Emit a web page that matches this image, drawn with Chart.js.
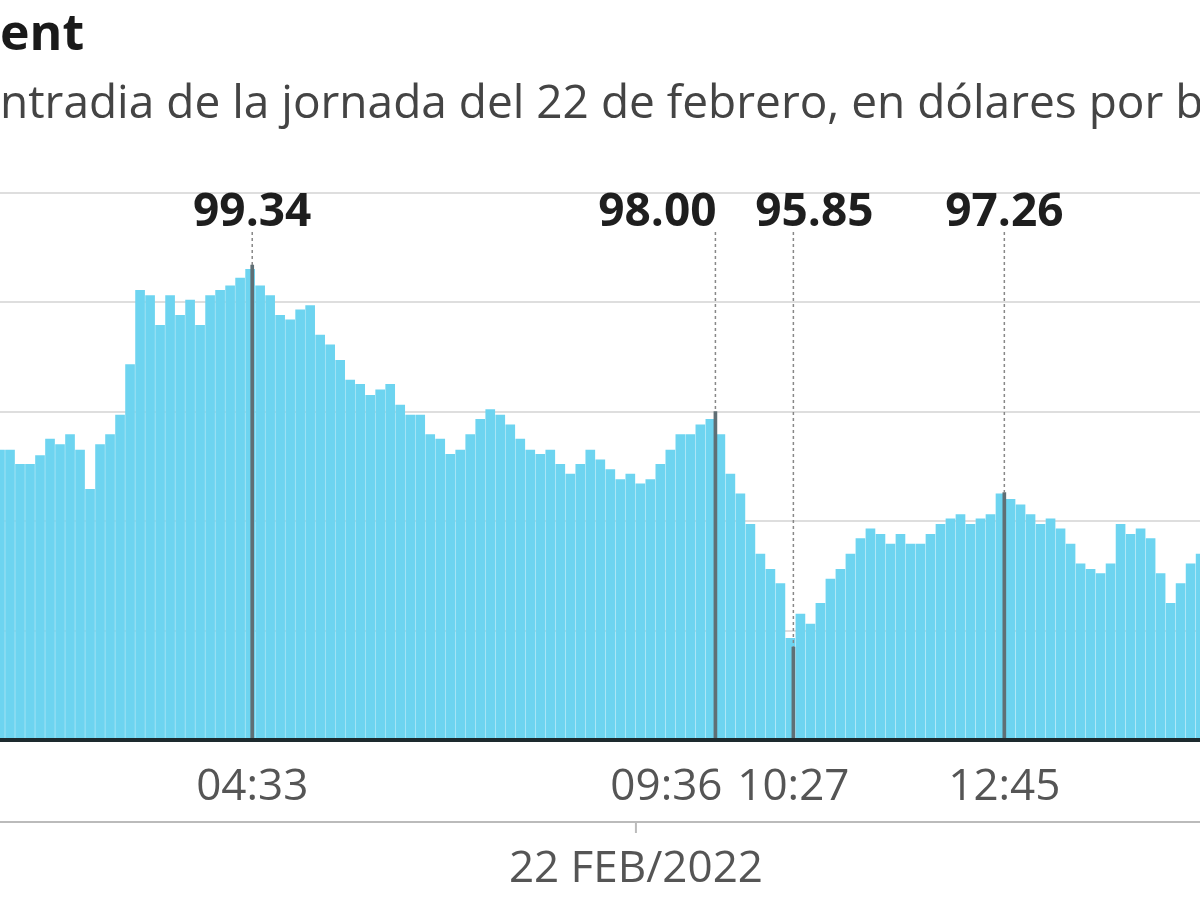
<!DOCTYPE html>
<html>
<head>
<meta charset="utf-8">
<script src="https://cdn.jsdelivr.net/npm/chart.js@4/dist/chart.umd.min.js"></script>
<style>
  html, body { margin: 0; padding: 0; background: #fff; }
  #wrap { width: 1200px; height: 900px; position: relative; }
</style>
</head>
<body>
<div id="wrap"><canvas id="brentChart" width="1200" height="900"></canvas></div>
<script>
// Brent price, intraday 22 Feb 2022 (minutes from midnight on the x axis)
const startMin = 108;      // 01:48
const stepMin = 6.545;     // spacing of the readings
const prices = [
  97.65, 97.65, 97.52, 97.52, 97.60, 97.75, 97.70, 97.79, 97.65, 97.29,
  97.70, 97.79, 97.97, 98.43, 99.11, 99.06, 98.79, 99.06, 98.88, 99.02,
  98.79, 99.06, 99.11, 99.15, 99.22, 99.30, 99.15, 99.06, 98.88, 98.84,
  98.93, 98.97, 98.70, 98.61, 98.47, 98.29, 98.25, 98.15, 98.20, 98.25,
  98.06, 97.97, 97.97, 97.79, 97.75, 97.61, 97.65, 97.79, 97.93, 98.02,
  97.97, 97.88, 97.75, 97.65, 97.61, 97.65, 97.52, 97.43, 97.52, 97.65,
  97.56, 97.47, 97.38, 97.43, 97.34, 97.38, 97.52, 97.65, 97.79, 97.79,
  97.88, 97.93, 97.79, 97.43, 97.25, 96.97, 96.70, 96.56, 96.43, 95.93,
  96.15, 96.06, 96.25, 96.47, 96.56, 96.70, 96.84, 96.93, 96.88, 96.79,
  96.88, 96.79, 96.79, 96.88, 96.97, 97.02, 97.06, 96.97, 97.02, 97.06,
  97.25, 97.20, 97.15, 97.06, 96.97, 97.02, 96.93, 96.79, 96.61, 96.56,
  96.52, 96.61, 96.97, 96.88, 96.93, 96.84, 96.52, 96.25, 96.43, 96.61,
  96.70
];

// highlighted moments
const markTimes = ['04:33', '09:36', '10:27', '12:45'];
const markValues = [99.34, 98.00, 95.85, 97.26];
// label nudges so neighbouring labels do not collide (as in the source)
const valueShift = [0, -58, 21, 0];
const timeShift = [0, -49, 0, 0];

const dateLabel = '22 FEB/2022';
const dateTickTime = '08:44';
const titleText = 'Brent';
const subtitleText = 'Cotización intradia de la jornada del 22 de febrero, en dólares por barril';

function toMin(hhmm) {
    const p = hhmm.split(':');
    return parseInt(p[0]) * 60 + parseInt(p[1]);
}

const priceData = prices.map((v, i) => ({ x: startMin + i * stepMin, y: v }));
const markData = markTimes.map((t, i) => ({ x: toMin(t), y: markValues[i] }));

const decorPlugin = {
    id: 'decor',
    afterDraw(chart) {
        const ctx = chart.ctx;
        const xs = chart.scales.x, ys = chart.scales.y;
        const area = chart.chartArea;
        ctx.save();

        // title, cropped on the left like the source
        ctx.fillStyle = '#1a1a1a';
        ctx.font = 'bold 50px "Open Sans", sans-serif';
        ctx.textBaseline = 'alphabetic';
        ctx.fillText(titleText, -ctx.measureText('Br').width, 50);
        ctx.fillStyle = '#444';
        ctx.font = '46px "Open Sans", sans-serif';
        ctx.fillText(subtitleText, -ctx.measureText('Cotización i').width, 118);

        // base line
        ctx.strokeStyle = '#1d2a2e';
        ctx.lineWidth = 4;
        ctx.beginPath();
        ctx.moveTo(0, area.bottom);
        ctx.lineTo(1200, area.bottom);
        ctx.stroke();

        // markers: dotted leader + value label + time label
        markData.forEach((p, i) => {
            const px = xs.getPixelForValue(p.x);
            const py = ys.getPixelForValue(p.y);
            ctx.strokeStyle = '#888';
            ctx.lineWidth = 1.5;
            ctx.setLineDash([3, 3]);
            ctx.beginPath();
            ctx.moveTo(px, 232);
            ctx.lineTo(px, py);
            ctx.stroke();
            ctx.setLineDash([]);

            ctx.fillStyle = '#1e1e1e';
            ctx.font = 'bold 46px "Open Sans", sans-serif';
            ctx.textAlign = 'center';
            ctx.fillText(markValues[i].toFixed(2), px + valueShift[i], 226);

            ctx.fillStyle = '#555';
            ctx.font = '44px "Open Sans", sans-serif';
            ctx.fillText(markTimes[i], px + timeShift[i], 800);
        });

        // date axis
        ctx.strokeStyle = '#bbb';
        ctx.lineWidth = 2;
        ctx.beginPath();
        ctx.moveTo(0, 822);
        ctx.lineTo(1200, 822);
        const dx = xs.getPixelForValue(toMin(dateTickTime));
        ctx.moveTo(dx, 822);
        ctx.lineTo(dx, 833);
        ctx.stroke();
        ctx.fillStyle = '#555';
        ctx.font = '44px "Open Sans", sans-serif';
        ctx.textAlign = 'center';
        ctx.fillText(dateLabel, dx, 882);

        ctx.restore();
    }
};

new Chart(document.getElementById('brentChart').getContext('2d'), {
    type: 'bar',
    data: {
        datasets: [
            {
                label: 'Marcas',
                data: markData,
                backgroundColor: '#5f6f75',
                barThickness: 3,
                grouped: false,
                order: 0
            },
            {
                label: 'Brent',
                data: priceData,
                backgroundColor: '#6dd4f0',
                barThickness: 9,
                grouped: false,
                order: 1
            }
        ]
    },
    options: {
        responsive: false,
        animation: false,
        layout: { padding: { top: 160, bottom: 160, left: 0, right: 0 } },
        plugins: { legend: { display: false }, tooltip: { enabled: false } },
        scales: {
            x: {
                type: 'linear',
                min: startMin,
                max: 893,
                offset: false,
                display: false
            },
            y: {
                min: 95,
                max: 100.3,
                afterBuildTicks: (scale) => {
                    scale.ticks = [95, 96, 97, 98, 99, 100].map(v => ({ value: v }));
                },
                ticks: { display: false },
                border: { display: false },
                grid: { color: '#dedede', lineWidth: 2, drawTicks: false }
            }
        }
    },
    plugins: [decorPlugin]
});
</script>
</body>
</html>
